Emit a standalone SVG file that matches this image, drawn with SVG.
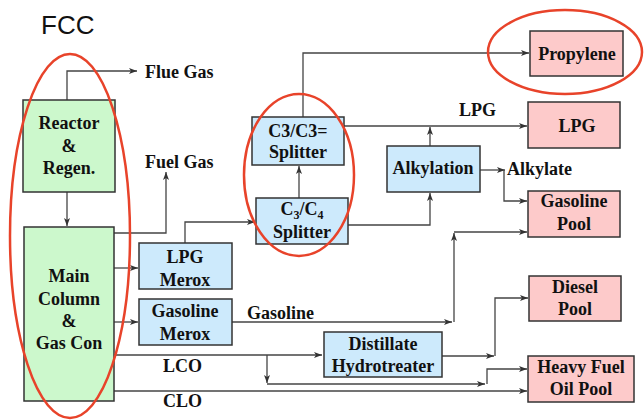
<svg xmlns="http://www.w3.org/2000/svg" width="644" height="420" viewBox="0 0 644 420">
<style>
.box{stroke:#333;stroke-width:1.5}
.g{fill:#ccf8cc}.b{fill:#cdeafc}.p{fill:#fdcaca}
.t{font-weight:bold;font-size:18px;fill:#111}
.c{text-anchor:middle}
.ln{fill:none;stroke:#444;stroke-width:1.3}
.ring{fill:none;stroke:#e8432a;stroke-width:2.5}
</style>
<defs>
<marker id="ar" viewBox="0 0 8 6" refX="8" refY="3" markerWidth="8" markerHeight="6" markerUnits="userSpaceOnUse" orient="auto">
<path d="M0,0 L8,3 L0,6 L2,3 z" fill="#333"/>
</marker>
</defs>
<rect width="644" height="420" fill="#fff"/>
<text x="41" y="34" font-family="Liberation Sans, Arial, sans-serif" font-size="26" fill="#111">FCC</text>

<g id="connectors">
<path class="ln" d="M67,100 V71 H137" marker-end="url(#ar)"/>
<path class="ln" d="M67,192 V226" marker-end="url(#ar)"/>
<path class="ln" d="M114,233 H166 V172" marker-end="url(#ar)"/>
<path class="ln" d="M114,268 H138" marker-end="url(#ar)"/>
<path class="ln" d="M114,322 H138" marker-end="url(#ar)"/>
<path class="ln" d="M185,243 V222 H255" marker-end="url(#ar)"/>
<path class="ln" d="M299,198 V166" marker-end="url(#ar)"/>
<path class="ln" d="M303,117 V53 H529" marker-end="url(#ar)"/>
<path class="ln" d="M344,126 H527" marker-end="url(#ar)"/>
<path class="ln" d="M430,146 V127" marker-end="url(#ar)"/>
<path class="ln" d="M348,225 H430 V193" marker-end="url(#ar)"/>
<path class="ln" d="M480,170 H505" marker-end="url(#ar)"/>
<path class="ln" d="M504,170 V201 H527" marker-end="url(#ar)"/>
<path class="ln" d="M232,322 H452" marker-end="url(#ar)"/>
<path class="ln" d="M454,322 V233" marker-end="url(#ar)"/>
<path class="ln" d="M454,232 H527" marker-end="url(#ar)"/>
<path class="ln" d="M114,355 H322" marker-end="url(#ar)"/>
<path class="ln" d="M267,355 V383" marker-end="url(#ar)"/>
<path class="ln" d="M267,384 H485" marker-end="url(#ar)"/>
<path class="ln" d="M487,384 V369 H527" marker-end="url(#ar)"/>
<path class="ln" d="M442,356 H494" marker-end="url(#ar)"/>
<path class="ln" d="M495,356 V298 H528" marker-end="url(#ar)"/>
<path class="ln" d="M114,391 H527" marker-end="url(#ar)"/>
</g>

<g font-family="Liberation Serif, Times New Roman, DejaVu Serif, serif">
<g id="labels">
<text class="t" x="145" y="78">Flue Gas</text>
<text class="t" x="145" y="168">Fuel Gas</text>
<text class="t" x="247" y="319">Gasoline</text>
<text class="t" x="163" y="372">LCO</text>
<text class="t" x="163" y="407">CLO</text>
<text class="t" x="459" y="116">LPG</text>
<text class="t" x="507" y="175">Alkylate</text>
</g>

<g id="reactor">
<rect class="box g" x="23" y="100" width="92" height="92"/>
<text class="t c" x="69" y="129">Reactor</text>
<text class="t c" x="69" y="151.5">&amp;</text>
<text class="t c" x="69" y="174">Regen.</text>
</g>
<g id="main-column">
<rect class="box g" x="24" y="227" width="90" height="174"/>
<text class="t c" x="69" y="282">Main</text>
<text class="t c" x="69" y="305">Column</text>
<text class="t c" x="69" y="327">&amp;</text>
<text class="t c" x="69" y="349">Gas Con</text>
</g>
<g id="lpg-merox">
<rect class="box b" x="139" y="243" width="93" height="46"/>
<text class="t c" x="185" y="263">LPG</text>
<text class="t c" x="185" y="286">Merox</text>
</g>
<g id="gasoline-merox">
<rect class="box b" x="139" y="299" width="93" height="46"/>
<text class="t c" x="185" y="317">Gasoline</text>
<text class="t c" x="185" y="340">Merox</text>
</g>
<g id="c3c3-splitter">
<rect class="box b" x="252" y="117" width="92" height="48"/>
<text class="t c" x="298" y="137">C3/C3=</text>
<text class="t c" x="298" y="158">Splitter</text>
</g>
<g id="c3c4-splitter">
<rect class="box b" x="256" y="198" width="92" height="46"/>
<text class="t c" x="302" y="215">C<tspan font-size="12" dy="4">3</tspan><tspan dy="-4">/C</tspan><tspan font-size="12" dy="4">4</tspan></text>
<text class="t c" x="302" y="238">Splitter</text>
</g>
<g id="alkylation">
<rect class="box b" x="387" y="146" width="93" height="46"/>
<text class="t c" x="433" y="174">Alkylation</text>
</g>
<g id="hydrotreater">
<rect class="box b" x="324" y="332" width="118" height="45"/>
<text class="t c" x="383" y="350">Distillate</text>
<text class="t c" x="383" y="372">Hydrotreater</text>
</g>
<g id="propylene">
<rect class="box p" x="530" y="31" width="93" height="45"/>
<text class="t c" x="577" y="60">Propylene</text>
</g>
<g id="lpg">
<rect class="box p" x="528" y="102" width="92" height="46"/>
<text class="t c" x="577" y="132">LPG</text>
</g>
<g id="gasoline-pool">
<rect class="box p" x="528" y="191" width="92" height="46"/>
<text class="t c" x="574" y="207">Gasoline</text>
<text class="t c" x="574" y="230">Pool</text>
</g>
<g id="diesel-pool">
<rect class="box p" x="529" y="276" width="92" height="45"/>
<text class="t c" x="575" y="293">Diesel</text>
<text class="t c" x="575" y="315">Pool</text>
</g>
<g id="heavy-fuel-oil-pool">
<rect class="box p" x="528" y="356" width="106" height="46"/>
<text class="t c" x="581" y="373">Heavy Fuel</text>
<text class="t c" x="581" y="395">Oil Pool</text>
</g>
</g>

<g id="highlights">
<ellipse class="ring" cx="70" cy="236" rx="60" ry="182"/>
<ellipse class="ring" cx="299" cy="175" rx="55" ry="81"/>
<ellipse class="ring" cx="565" cy="52" rx="77" ry="42"/>
</g>
</svg>
